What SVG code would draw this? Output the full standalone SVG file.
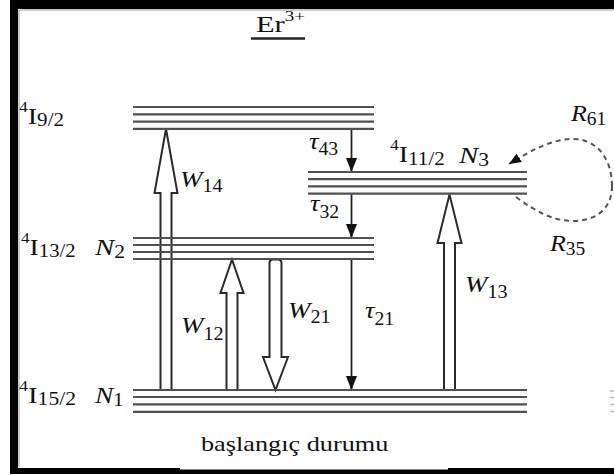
<svg xmlns="http://www.w3.org/2000/svg" width="614" height="475" viewBox="0 0 614 475">
<defs>
<style>
.lvl{stroke:#505050;stroke-width:2.2;fill:none}
.hollow{stroke:#2a2a2a;stroke-width:2;fill:#fff;stroke-linejoin:miter}
.thin{stroke:#222;stroke-width:1.8;fill:none}
.dash{stroke:#555;stroke-width:2;fill:none;stroke-dasharray:5 4}
text{font-family:"Liberation Serif","Times New Roman",serif;fill:#111}
.m{font-size:24px}
.it{font-style:italic}
.sub{font-size:18px}
.sup{font-size:15px}
</style>
<marker id="ah" viewBox="0 0 10 10" refX="10" refY="5" markerUnits="userSpaceOnUse" markerWidth="14" markerHeight="11" orient="auto" preserveAspectRatio="none">
<path d="M0,0 L10,5 L0,10 Z" fill="#111"/>
</marker>
<marker id="ahs" viewBox="0 0 10 10" refX="10" refY="5" markerUnits="userSpaceOnUse" markerWidth="12" markerHeight="10" orient="auto" preserveAspectRatio="none">
<path d="M0,0 L10,5 L0,10 Z" fill="#111"/>
</marker>
</defs>
<rect width="614" height="475" fill="#fff"/>
<g id="frame">
<rect x="10" y="0" width="604" height="9" fill="#000"/>
<rect x="10" y="0" width="8" height="474" fill="#000"/>
<rect x="10" y="468" width="604" height="6" fill="#000"/>
<path d="M19,467 V10 H614" stroke="#999" stroke-width="1" fill="none"/>
</g>
<g id="title">
<text class="m" transform="translate(256,32) scale(1.27,1)">Er<tspan class="sup" dy="-11">3+</tspan></text>
<line x1="251" y1="38.5" x2="305" y2="38.5" stroke="#222" stroke-width="2.5"/>
</g>
<g id="connectors">
<polygon id="W14" class="hollow" points="160.5,390 160.5,193 154.5,193 166,129 177.5,193 171.5,193 171.5,390"/>
<polygon id="W12" class="hollow" points="226.5,390 226.5,293 220.5,293 232,259.5 243.5,293 237.5,293 237.5,390"/>
<path id="W21" class="hollow" d="M269.5,357 V263 Q269.5,259.5 273,259.5 H278 Q281.5,259.5 281.5,263 V357 H288 L275.5,390 L263,357 Z"/>
<polygon id="W13" class="hollow" points="444,390 444,243 437.5,243 449.5,194.5 461.5,243 455,243 455,390"/>
<line class="thin" x1="351.5" y1="129" x2="351.5" y2="172" marker-end="url(#ah)"/>
<line class="thin" x1="351.5" y1="194" x2="351.5" y2="238" marker-end="url(#ah)"/>
<line class="thin" x1="351.5" y1="259" x2="351.5" y2="390" marker-end="url(#ah)"/>
<path class="dash" d="M612,186 C612,160 598,139 573,139 C552,139 532,150 509,164" marker-end="url(#ahs)"/>
<path class="dash" d="M516,197 C535,211 553,221 573,221 C597,221 612,208 612,186"/>
<text class="m it" transform="translate(180,187) scale(1.12,1)">W<tspan class="sub" dy="5" font-style="normal">14</tspan></text>
<text class="m it" transform="translate(181,333) scale(1.12,1)">W<tspan class="sub" dy="7" font-style="normal">12</tspan></text>
<text class="m it" transform="translate(288,318) scale(1.12,1)">W<tspan class="sub" dy="5" font-style="normal">21</tspan></text>
<text class="m it" transform="translate(465,292) scale(1.12,1)">W<tspan class="sub" dy="6" font-style="normal">13</tspan></text>
<text class="m it" transform="translate(309,149) scale(1.1,1)">τ<tspan class="sub" dy="6" font-style="normal">43</tspan></text>
<text class="m it" transform="translate(310,211) scale(1.1,1)">τ<tspan class="sub" dy="7" font-style="normal">32</tspan></text>
<text class="m it" transform="translate(365,318) scale(1.1,1)">τ<tspan class="sub" dy="7" font-style="normal">21</tspan></text>
<text class="m it" transform="translate(571,121) scale(1.08,1)">R<tspan class="sub" dy="4" font-style="normal">61</tspan></text>
<text class="m it" transform="translate(550,251) scale(1.08,1)">R<tspan class="sub" dy="4" font-style="normal">35</tspan></text>
</g>
<g id="level-4I9_2">
<line class="lvl" x1="133" y1="107" x2="374" y2="107"/>
<line class="lvl" x1="133" y1="114.3" x2="374" y2="114.3"/>
<line class="lvl" x1="133" y1="121.6" x2="374" y2="121.6"/>
<line class="lvl" x1="133" y1="128.8" x2="374" y2="128.8"/>
<text class="m" transform="translate(19,124) scale(1.17,1)"><tspan class="sup" dy="-12">4</tspan><tspan dy="12">I</tspan><tspan class="sub" dy="2">9/2</tspan></text>
</g>
<g id="level-4I11_2">
<line class="lvl" x1="308" y1="172" x2="527" y2="172"/>
<line class="lvl" x1="308" y1="179.2" x2="527" y2="179.2"/>
<line class="lvl" x1="308" y1="186.4" x2="527" y2="186.4"/>
<line class="lvl" x1="308" y1="193.6" x2="527" y2="193.6"/>
<text class="m" transform="translate(390,162) scale(1.17,1)"><tspan class="sup" dy="-12">4</tspan><tspan dy="12">I</tspan><tspan class="sub" dy="3">11/2</tspan></text>
<text class="m it" transform="translate(459,163) scale(1.2,1)">N<tspan class="sub" dy="3" font-style="normal">3</tspan></text>
</g>
<g id="level-4I13_2">
<line class="lvl" x1="133" y1="238" x2="374" y2="238"/>
<line class="lvl" x1="133" y1="245" x2="374" y2="245"/>
<line class="lvl" x1="133" y1="252" x2="374" y2="252"/>
<line class="lvl" x1="133" y1="259" x2="374" y2="259"/>
<text class="m" transform="translate(21,255) scale(1.15,1)"><tspan class="sup" dy="-12">4</tspan><tspan dy="12">I</tspan><tspan class="sub" dy="2">13/2</tspan></text>
<text class="m it" transform="translate(95,255) scale(1.2,1)">N<tspan class="sub" dy="3" font-style="normal">2</tspan></text>
</g>
<g id="level-4I15_2">
<line class="lvl" x1="133" y1="390" x2="527" y2="390"/>
<line class="lvl" x1="133" y1="397" x2="527" y2="397"/>
<line class="lvl" x1="133" y1="404.3" x2="527" y2="404.3"/>
<line class="lvl" x1="133" y1="411.8" x2="527" y2="411.8"/>
<text class="m" transform="translate(19,403) scale(1.2,1)"><tspan class="sup" dy="-12">4</tspan><tspan dy="12">I</tspan><tspan class="sub" dy="2">15/2</tspan></text>
<text class="m it" transform="translate(95,403) scale(1.14,1)">N<tspan class="sub" dy="3" font-style="normal">1</tspan></text>
</g>
<g id="edge-stubs" stroke="#bbb" stroke-width="1.5">
<line x1="610" y1="391" x2="614" y2="391"/>
<line x1="610" y1="397.5" x2="614" y2="397.5"/>
<line x1="610" y1="404.5" x2="614" y2="404.5"/>
<line x1="610" y1="411.5" x2="614" y2="411.5"/>
</g>
<g id="caption">
<rect x="180" y="425" width="268" height="44.5" fill="#fff"/>
<text transform="translate(201,451) scale(1.25,1)" font-size="21">başlangıç durumu</text>
</g>
</svg>
